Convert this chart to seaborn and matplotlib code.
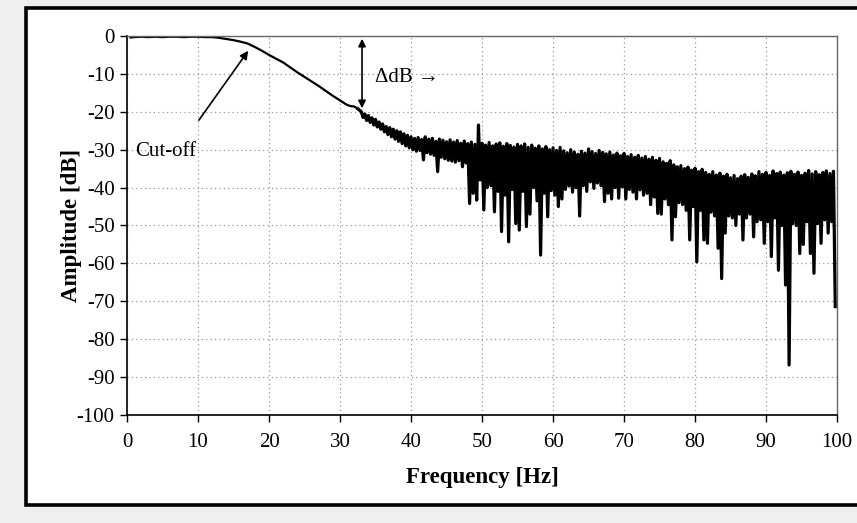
import numpy as np
import pandas as pd
import seaborn as sb
import matplotlib.pyplot as plt
from matplotlib.patches import Rectangle

# smooth low-pass part of the spectrum
smooth_freq = [0.5, 1, 2, 3, 4, 5, 6, 7, 8, 9, 10, 11, 12, 13, 14, 15, 16, 17, 18, 19,
               20, 21, 22, 23, 24, 25, 26, 27, 28, 29, 30, 31, 31.5, 32, 32.5]
smooth_db = [-0.4, -0.3, -0.2, -0.3, -0.2, -0.3, -0.2, -0.2, -0.3, -0.2, -0.2, -0.3,
             -0.3, -0.5, -0.8, -1.1, -1.5, -2.0, -2.9, -3.9, -5.0, -6.0, -7.0, -8.3,
             -9.6, -10.8, -12.0, -13.2, -14.5, -15.8, -17.0, -18.2, -18.5, -18.6, -19.2]

# noisy part from 33 Hz: tops every 0.5 Hz, bottoms in between
noise_start = 33.0
peak_db = [
    -20.0, -20.6, -21.0, -21.6, -22.0, -22.7, -23.2, -23.9, -24.2, -24.6,
    -25.0, -25.3, -25.8, -26.2, -26.6, -27.0, -26.8, -27.3, -26.6, -27.2,
    -27.0, -27.8, -27.2, -27.5, -27.9, -27.4, -28.0, -27.6, -28.3, -27.7,
    -28.4, -28.0, -28.6, -23.5, -28.3, -28.8, -28.1, -29.0, -28.5, -28.2,
    -29.1, -28.4, -28.9, -29.3, -28.6, -29.0, -28.5, -29.4, -28.8, -29.6,
    -29.0, -29.8, -29.2, -30.0, -29.5, -30.2, -29.4, -30.3, -30.8, -30.0,
    -30.6, -31.2, -30.4, -30.9, -29.8, -30.5, -31.0, -30.2, -30.7, -31.1,
    -30.6, -31.4, -30.9, -31.6, -31.0, -31.8, -31.3, -32.0, -31.5, -32.2,
    -31.8, -32.5, -32.0, -32.8, -32.3, -33.2, -33.6, -32.9, -34.0, -34.5,
    -34.2, -35.0, -34.6, -35.4, -34.9, -35.8, -35.2, -36.0, -36.5, -35.8,
    -36.7, -36.2, -37.0, -36.5, -37.4, -36.8, -37.6, -37.0, -36.6, -37.3,
    -36.4, -36.9, -35.8, -36.5, -36.0, -36.8, -35.6, -36.3, -35.9, -36.7,
    -36.1, -35.7, -36.5, -35.9, -36.8, -36.2, -35.5, -36.4, -35.8, -36.6,
    -36.0, -35.6, -36.3, -35.7,
]
trough_db = [
    -21.5, -22.3, -22.8, -23.5, -24.0, -24.6, -25.3, -26.0, -26.6, -27.2,
    -27.8, -28.4, -29.0, -29.5, -30.0, -30.4, -30.2, -32.7, -30.8, -31.2,
    -31.5, -35.8, -32.0, -32.4, -32.8, -33.0, -33.3, -32.9, -34.5, -33.5,
    -44.2, -41.5, -43.3, -38.0, -45.9, -40.0, -39.5, -46.4, -41.0, -51.6,
    -42.0, -54.3, -40.5, -49.5, -51.2, -41.0, -50.3, -47.0, -40.0, -43.5,
    -57.8, -41.5, -47.7, -40.8, -42.0, -45.0, -43.0, -40.5, -39.6, -41.2,
    -40.0, -47.5, -39.5, -41.0, -38.5, -40.2, -38.8, -39.5, -43.7, -41.5,
    -43.0, -40.0, -42.8, -39.8, -43.0, -40.5, -41.2, -43.0, -40.6, -42.0,
    -41.5, -44.5, -42.5, -46.8, -47.0, -43.0, -44.5, -53.8, -47.7, -44.0,
    -44.5, -46.0, -53.8, -45.0, -59.6, -46.0, -53.8, -54.7, -46.5, -47.5,
    -56.0, -64.0, -52.0, -47.5, -48.0, -50.0, -47.0, -53.8, -48.0, -47.0,
    -53.0, -49.0, -48.5, -54.7, -49.0, -58.2, -48.0, -61.8, -50.0, -65.7,
    -86.8, -49.5, -50.0, -57.4, -55.0, -49.0, -57.4, -62.6, -49.5, -54.7,
    -48.5, -52.0, -49.0, -71.4,
]

x_ticks = list(range(0, 101, 10))
y_ticks = list(range(-100, 1, 10))

peak_freq = noise_start + 0.5 * np.arange(len(peak_db))
trough_freq = peak_freq + 0.25

smooth = pd.DataFrame({"freq": smooth_freq, "db": smooth_db})
noisy = pd.DataFrame({
    "freq": np.concatenate([smooth_freq[-1:], peak_freq, trough_freq]),
    "db": np.concatenate([smooth_db[-1:], peak_db, trough_db]),
}).sort_values("freq")

serif = ["Liberation Serif", "DejaVu Serif"]
plt.rcParams["font.family"] = serif
plt.rcParams["axes.unicode_minus"] = False

fig = plt.figure(figsize=(8.57, 5.23), dpi=100, facecolor="#efefef")
fig.add_artist(Rectangle((0.030, 0.034), 1.0, 0.950, transform=fig.transFigure,
                         facecolor="white", edgecolor="black", lw=2.6, zorder=-5))
ax = fig.add_axes([0.1482, 0.2065, 0.8285, 0.7247])
ax.set_facecolor("white")

sb.lineplot(data=smooth, x="freq", y="db", color="black", lw=1.6, estimator=None, ax=ax)
sb.lineplot(data=noisy, x="freq", y="db", color="black", lw=2.3, estimator=None, ax=ax)

ax.set_xlim(0, 100)
ax.set_ylim(-100, 0)
ax.set_xticks(x_ticks)
ax.set_yticks(y_ticks)
ax.grid(True, color="#9a9a9a", linestyle=(0, (1, 2.5)), lw=0.9)
ax.tick_params(labelsize=15, direction="out", length=5, width=1, pad=4)
ax.tick_params(axis="x", pad=8)
for s in ["left", "bottom"]:
    ax.spines[s].set_color("black")
    ax.spines[s].set_linewidth(1.2)
for s in ["top", "right"]:
    ax.spines[s].set_color("#666666")
    ax.spines[s].set_linewidth(1.0)

ax.set_xlabel("Frequency [Hz]", fontsize=16.5, fontweight="bold", labelpad=11)
ax.set_ylabel("Amplitude [dB]", fontsize=16.5, fontweight="bold")
ax.yaxis.set_label_coords(-0.064, 0.5)

ax.annotate("", xy=(17.3, -3.3), xytext=(9.9, -22.8),
            arrowprops=dict(arrowstyle="-|>", color="black", lw=1.2, mutation_scale=12))
ax.text(1.1, -30.6, "Cut-off", fontsize=15, va="center", ha="left", family=serif)
ax.annotate("", xy=(33.1, 0), xytext=(33.1, -19.8),
            arrowprops=dict(arrowstyle="<|-|>", color="black", lw=1.2, mutation_scale=11))
ax.text(34.9, -11.0, "ΔdB →", fontsize=15, va="center", ha="left", family=serif)

plt.savefig("out.png", dpi=100, facecolor=fig.get_facecolor())
